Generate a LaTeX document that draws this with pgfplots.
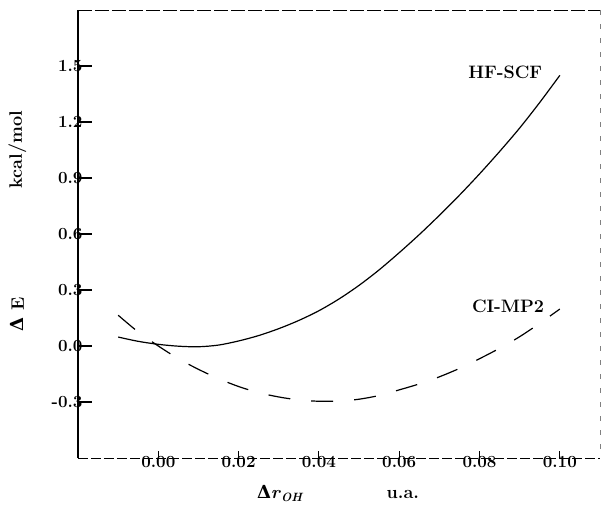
\documentclass[border=0pt]{standalone}
\usepackage{fontspec}
\newfontfamily\dej{DejaVu Serif}
\usepackage{pgfplots}
\pgfplotsset{compat=1.18}
\pgfplotstableread{
x y
-0.010 0.048
-0.005 0.025
0.000 0.009
0.005 -0.001
0.010 -0.004
0.015 0.005
0.020 0.027
0.025 0.056
0.030 0.093
0.035 0.137
0.040 0.189
0.045 0.252
0.050 0.325
0.055 0.408
0.060 0.500
0.065 0.597
0.070 0.700
0.075 0.808
0.080 0.922
0.085 1.042
0.090 1.168
0.095 1.305
0.100 1.450
}\hfscf
\pgfplotstableread{
x y
-0.010 0.165
-0.005 0.075
0.000 0.000
0.005 -0.068
0.010 -0.125
0.015 -0.175
0.020 -0.217
0.025 -0.250
0.030 -0.273
0.035 -0.289
0.040 -0.296
0.045 -0.295
0.050 -0.285
0.055 -0.265
0.060 -0.235
0.065 -0.203
0.070 -0.165
0.075 -0.120
0.080 -0.068
0.085 -0.012
0.090 0.050
0.095 0.122
0.100 0.198
}\cimp
\newcommand\lab{\fontsize{18}{21}\selectfont\bfseries}
\newcommand\tlab{\fontsize{17}{20}\selectfont\bfseries}
\begin{document}
\begin{tikzpicture}
\begin{axis}[
  name=ax,
  width=522pt, height=448pt, scale only axis,
  xmin=-0.02, xmax=0.11, ymin=-0.6, ymax=1.8,
  axis line style={draw=none},
  xtick=\empty,
  extra x ticks={0,0.02,0.04,0.06,0.08,0.10},
  extra x tick labels={0.00,0.02,0.04,0.06,0.08,0.10},
  extra x tick style={major tick length=0pt, xticklabel style={yshift=5pt}},
  ytick={-0.3,0,0.3,0.6,0.9,1.2,1.5},
  yticklabels={-0.3,0.0,0.3,0.6,0.9,1.2,1.5},
  yticklabel style={xshift=8pt},
  xtick pos=left, ytick pos=left,
  tick align=inside,
  major tick length=0pt,
  tick style={draw=none},
  ticklabel style={font=\tlab},
  clip=false,
]
\addplot[black, line width=1.2pt] coordinates {(-0.02,-0.6) (-0.02,1.8)};
\addplot[black, line width=0.9pt, dash pattern=on 10pt off 3pt] coordinates {(-0.02,-0.6) (0.11,-0.6)};
\addplot[black, line width=0.9pt, dash pattern=on 14pt off 3pt] coordinates {(-0.02,1.8) (0.11,1.8)};
\addplot[gray, line width=0.6pt, dash pattern=on 5pt off 9pt] coordinates {(0.11,1.8) (0.11,-0.6)};
\addplot[black, line width=1.1pt] coordinates {(-0.02,-0.3) (-0.0165,-0.3)};
\addplot[black, line width=1.1pt] coordinates {(-0.02,0) (-0.0165,0)};
\addplot[black, line width=1.1pt] coordinates {(-0.02,0.3) (-0.0165,0.3)};
\addplot[black, line width=1.1pt] coordinates {(-0.02,0.6) (-0.0165,0.6)};
\addplot[black, line width=1.1pt] coordinates {(-0.02,0.9) (-0.0165,0.9)};
\addplot[black, line width=1.1pt] coordinates {(-0.02,1.2) (-0.0165,1.2)};
\addplot[black, line width=1.1pt] coordinates {(-0.02,1.5) (-0.0165,1.5)};
\addplot[black, line width=1.1pt] coordinates {(0,-0.6) (0,-0.56)};
\addplot[black, line width=1.1pt] coordinates {(0.02,-0.6) (0.02,-0.56)};
\addplot[black, line width=1.1pt] coordinates {(0.04,-0.6) (0.04,-0.56)};
\addplot[black, line width=1.1pt] coordinates {(0.06,-0.6) (0.06,-0.56)};
\addplot[black, line width=1.1pt] coordinates {(0.08,-0.6) (0.08,-0.56)};
\addplot[black, line width=1.1pt] coordinates {(0.10,-0.6) (0.10,-0.56)};
\addplot[black, line width=1.2pt, smooth] table {\hfscf};
\addplot[black, line width=1.2pt, smooth, dash pattern=on 22pt off 21pt] table {\cimp};
\node[font=\lab] at (axis cs:0.0864,1.468) {HF-SCF};
\node[font=\lab] at (axis cs:0.0871,0.214) {CI-MP2};
\node[font=\lab, rotate=90] at (axis cs:-0.0351,1.052) {kcal/mol};
\node[font=\lab, rotate=90] at (axis cs:-0.0351,0.171) {{\dej\bfseries Δ} E};
\node[font=\lab] at (axis cs:0.0302,-0.79) {{\dej\bfseries Δ}\textit{r}\raisebox{-0.35ex}{\fontsize{12}{14}\selectfont\itshape OH}};
\node[font=\lab] at (axis cs:0.0609,-0.795) {u.a.};
\end{axis}
\pgfresetboundingbox
\path (ax.south west) ++(-78pt,-49pt) rectangle ++(601pt,507pt);
\end{tikzpicture}
\end{document}
